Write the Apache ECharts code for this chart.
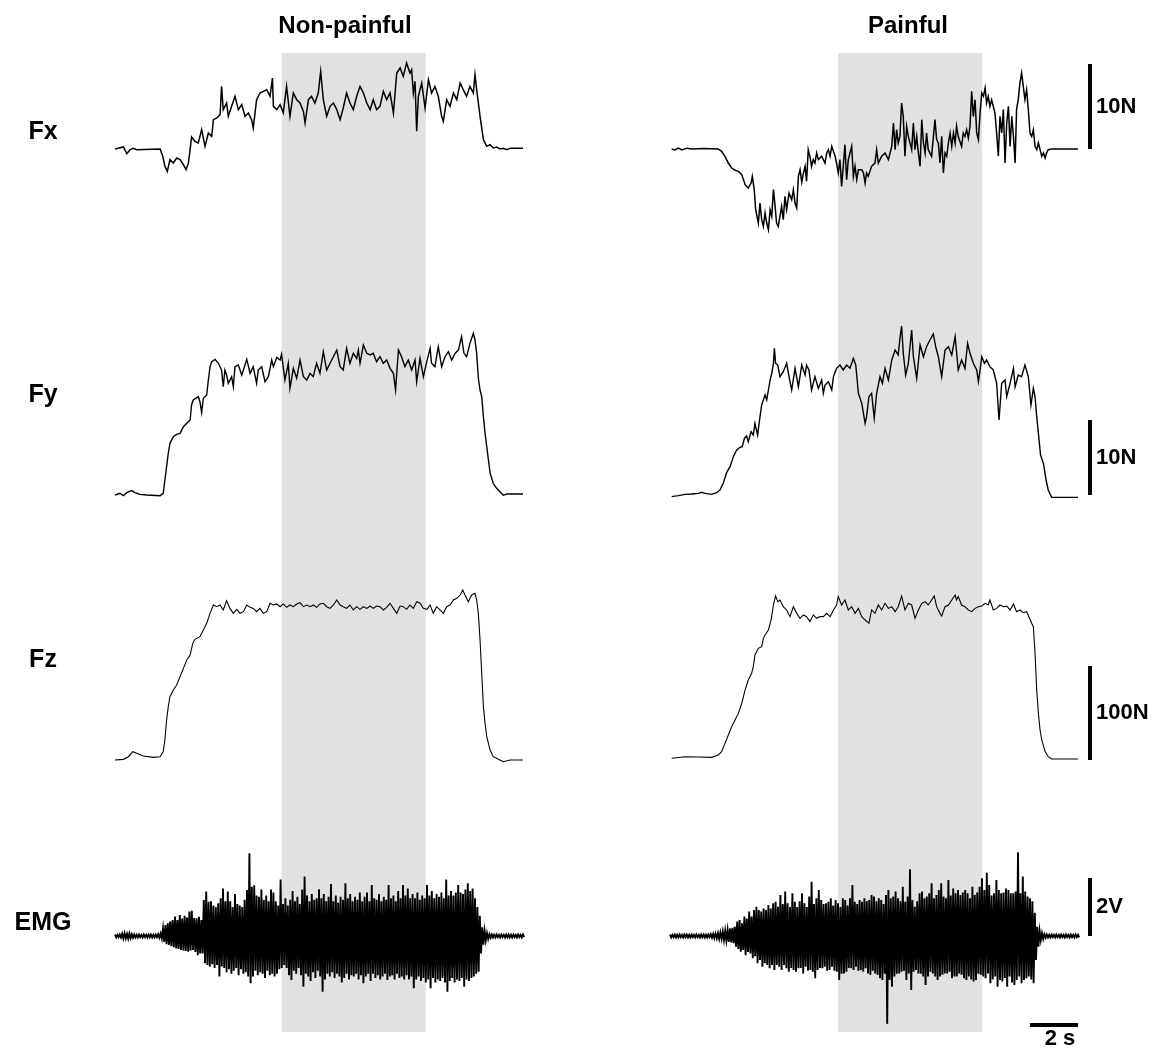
<!DOCTYPE html>
<html>
<head>
<meta charset="utf-8">
<title>Force and EMG traces</title>
<script src="https://cdn.jsdelivr.net/npm/echarts@6/dist/echarts.min.js"></script>
<style>
  html, body { margin: 0; padding: 0; background: #fff; }
  #chart { width: 1162px; height: 1057px; }
</style>
</head>
<body>
<div id="chart"></div>
<script>
// ---- data (time in s, forces in N, EMG in V) ----
const conditions = ['Non-painful', 'Painful'];
const channels = ['Fx', 'Fy', 'Fz', 'EMG'];
const stimWindows = [[6.95, 12.95], [7.0, 13.0]];
const traceDuration = 17;
const emgBinStep = 0.1;

const scaleBarValues = [10, 10, 100, 2];
const scaleBarLabels = ['10N', '10N', '100N', '2V'];
const timeBarSpan = [15, 17];
const timeBarLabel = '2 s';

const fxNonPainful = [
  [0,0],[0.35,0.24],[0.49,-0.55],[0.63,-0.08],[0.76,0.08],[0.9,-0.08],[1.88,0],[1.99,-0.86],[2.08,-2.04],[2.18,-2.63],
  [2.29,-1.25],[2.43,-1.65],[2.57,-1.06],[2.71,-1.25],[2.85,-1.84],[2.96,-2.43],[3.06,-1.65],[3.13,-0.08],[3.19,1.41],[3.33,0.9],
  [3.47,0.71],[3.61,2.27],[3.75,0.31],[3.89,1.88],[4.03,1.49],[4.10,3.45],[4.24,3.65],[4.38,4.04],[4.44,7.37],[4.51,4.63],
  [4.65,5.41],[4.72,3.84],[4.86,5.02],[5.0,6.2],[5.14,4.63],[5.28,5.22],[5.42,3.84],[5.56,4.24],[5.69,3.45],[5.76,2.47],
  [5.9,5.8],[6.04,6.59],[6.18,6.78],[6.32,6.98],[6.46,6.2],[6.56,8.35],[6.6,5.02],[6.74,4.63],[6.88,5.22],[7.01,4.24],
  [7.15,7.37],[7.29,3.84],[7.43,6.59],[7.57,5.8],[7.71,5.41],[7.85,4.43],[7.92,3.06],[8.06,5.8],[8.19,6.2],[8.33,5.41],
  [8.47,6.59],[8.57,9.14],[8.68,5.8],[8.82,3.84],[8.96,5.02],[9.1,5.41],[9.24,4.63],[9.38,3.45],[9.51,4.82],[9.65,6.59],
  [9.79,5.41],[9.93,4.63],[10.07,6.2],[10.21,7.37],[10.35,6.59],[10.49,5.41],[10.63,4.63],[10.76,5.8],[10.9,4.63],[11.04,5.02],
  [11.18,6.78],[11.32,5.8],[11.46,6.59],[11.6,4.24],[11.74,8.94],[11.88,9.53],[12.01,8.55],[12.15,10.12],[12.29,8.94],[12.36,9.33],
  [12.43,6.59],[12.5,7.96],[12.57,2.08],[12.64,6.2],[12.78,7.76],[12.92,4.82],[13.06,8.16],[13.19,6.59],[13.33,7.37],[13.47,6.2],
  [13.61,3.84],[13.68,3.25],[13.82,5.8],[13.96,5.02],[14.1,6.59],[14.24,5.8],[14.38,7.76],[14.51,6.98],[14.65,6.2],[14.79,7.37],
  [14.93,6.59],[15.0,8.75],[15.07,6.98],[15.21,3.84],[15.35,1.1],[15.49,0.31],[15.63,0.51],[15.76,0.12],[15.9,0.24],[16.04,0],
  [16.18,0.08],[16.32,-0.08],[16.46,0.08],[17,0.08]
];

const fxPainful = [
  [0.07,0],[0.2,-0.1],[0.35,0.1],[0.5,-0.1],[0.7,0.1],[0.9,0],[1.4,0.05],[2.01,0],[2.15,-0.27],[2.29,-0.86],
  [2.43,-1.65],[2.57,-2.24],[2.71,-2.51],[2.85,-2.63],[2.99,-3.02],[3.13,-4.2],[3.26,-4.59],[3.38,-4.0],[3.43,-3.22],[3.51,-4.78],
  [3.57,-7.14],[3.68,-8.71],[3.75,-6.35],[3.82,-8.31],[3.89,-9.1],[3.96,-7.53],[4.03,-8.71],[4.1,-9.49],[4.17,-7.14],[4.24,-7.92],
  [4.31,-4.78],[4.38,-6.75],[4.44,-8.71],[4.51,-9.1],[4.58,-7.92],[4.65,-6.75],[4.72,-8.31],[4.79,-5.57],[4.86,-7.14],[4.96,-5.18],
  [5.07,-5.96],[5.14,-4.78],[5.21,-6.35],[5.28,-6.94],[5.35,-3.22],[5.42,-2.43],[5.49,-3.9],[5.56,-2.82],[5.63,-2.04],[5.69,-3.8],
  [5.76,-0.08],[5.83,-0.86],[5.9,-2.04],[5.97,-1.25],[6.04,-1.65],[6.11,-0.47],[6.18,-1.25],[6.32,-0.86],[6.46,-1.65],[6.53,-0.47],
  [6.6,-0.08],[6.67,-0.86],[6.74,0.31],[6.88,-0.86],[6.94,-1.65],[7.01,-2.82],[7.08,-1.25],[7.15,-4.39],[7.22,-2.04],[7.29,0.51],
  [7.36,-3.61],[7.43,-1.25],[7.57,0.31],[7.64,-3.22],[7.71,-2.04],[7.78,-3.61],[7.85,-2.43],[7.99,-2.43],[8.06,-2.82],[8.13,-4.0],
  [8.19,-2.82],[8.26,-3.22],[8.4,-2.04],[8.54,-1.65],[8.61,-0.08],[8.68,-1.65],[8.82,-0.86],[8.96,-0.47],[9.1,-1.25],[9.24,0.31],
  [9.31,3.06],[9.38,-0.08],[9.44,2.27],[9.51,0.71],[9.58,1.49],[9.65,5.41],[9.72,3.84],[9.79,-0.86],[9.86,2.67],[9.93,1.49],
  [10.07,-0.08],[10.14,3.06],[10.21,-0.08],[10.28,1.49],[10.35,-0.47],[10.42,-2.04],[10.49,3.45],[10.56,0.71],[10.63,-0.47],[10.69,1.88],
  [10.76,-0.08],[10.9,-0.86],[11.04,3.45],[11.11,1.1],[11.18,0.71],[11.25,-1.65],[11.32,1.49],[11.39,-2.82],[11.46,-0.47],[11.53,-0.86],
  [11.6,0.71],[11.67,1.88],[11.74,0.31],[11.81,1.88],[11.88,0.71],[11.94,2.67],[12.01,1.49],[12.15,0.31],[12.22,1.88],[12.29,1.49],
  [12.36,2.27],[12.43,1.29],[12.5,2.67],[12.57,6.78],[12.64,3.84],[12.71,5.8],[12.78,1.88],[12.85,1.1],[12.92,4.24],[12.99,6.59],
  [13.06,6.2],[13.13,7.18],[13.19,5.41],[13.26,6.2],[13.33,5.02],[13.4,5.8],[13.54,4.24],[13.61,1.88],[13.68,-0.86],[13.75,3.84],
  [13.82,1.88],[13.89,4.63],[13.96,-1.65],[14.03,3.06],[14.1,5.02],[14.17,0.31],[14.24,3.84],[14.31,1.49],[14.38,-1.65],[14.44,4.63],
  [14.51,5.8],[14.58,7.76],[14.65,8.94],[14.72,7.37],[14.79,5.8],[14.86,6.98],[14.93,4.63],[15.0,1.88],[15.07,1.49],[15.14,2.27],
  [15.21,0.31],[15.28,-0.08],[15.35,0.71],[15.42,-0.08],[15.49,-0.86],[15.56,-0.47],[15.63,-1.06],[15.69,-0.47],[15.76,-0.08],[15.9,0],
  [17,0]
];

const fyNonPainful = [
  [0,0],[0.21,0.22],[0.35,-0.09],[0.49,0.31],[0.56,0.13],[0.69,0.58],[0.83,0.31],[1.04,0.09],[1.32,0],[1.88,-0.09],
  [2.01,0.22],[2.08,2.0],[2.15,3.78],[2.22,5.56],[2.29,6.89],[2.43,7.78],[2.57,8.09],[2.71,8.22],[2.85,9.11],[2.99,9.56],
  [3.13,10.0],[3.19,12.0],[3.26,12.67],[3.33,12.89],[3.47,13.11],[3.54,12.44],[3.61,10.98],[3.68,12.89],[3.82,13.33],[3.89,15.33],
  [3.96,17.11],[4.03,17.78],[4.17,18.09],[4.31,17.56],[4.44,16.67],[4.51,14.44],[4.58,16.67],[4.65,16.0],[4.72,14.89],[4.86,15.78],
  [4.93,14.44],[5.0,17.11],[5.14,17.33],[5.28,16.0],[5.35,16.67],[5.49,18.09],[5.63,16.22],[5.76,17.11],[5.9,14.89],[5.97,16.67],
  [6.11,17.11],[6.25,15.11],[6.39,15.78],[6.53,18.0],[6.6,17.11],[6.74,18.36],[6.88,18.0],[6.94,18.76],[7.08,15.33],[7.22,17.56],
  [7.29,14.22],[7.43,16.89],[7.57,15.56],[7.71,18.0],[7.85,15.78],[7.99,15.33],[8.13,16.22],[8.26,15.78],[8.4,17.56],[8.54,16.22],
  [8.68,19.11],[8.82,16.67],[8.96,17.56],[9.1,18.44],[9.24,19.33],[9.38,17.11],[9.51,16.67],[9.65,19.56],[9.79,17.56],[9.93,18.89],
  [10.07,18.22],[10.14,19.33],[10.21,17.56],[10.35,20.0],[10.49,18.89],[10.63,18.67],[10.76,18.89],[10.9,17.78],[11.04,18.44],[11.18,17.56],
  [11.32,18.0],[11.46,16.89],[11.6,16.22],[11.69,14.0],[11.81,19.33],[11.94,18.44],[12.08,17.11],[12.22,18.0],[12.36,16.67],[12.5,18.0],
  [12.57,15.11],[12.71,18.22],[12.85,15.78],[12.99,17.78],[13.13,19.56],[13.19,17.56],[13.33,17.11],[13.47,19.78],[13.61,17.11],[13.75,18.44],
  [13.89,19.11],[14.03,18.0],[14.17,18.89],[14.31,19.33],[14.44,21.11],[14.54,18.89],[14.65,18.44],[14.79,20.22],[14.93,21.56],[15.0,20.67],
  [15.07,18.89],[15.14,15.56],[15.21,14.0],[15.28,13.11],[15.35,10.44],[15.42,8.22],[15.49,6.44],[15.56,4.67],[15.63,2.89],[15.76,1.56],
  [15.9,0.89],[16.04,0.44],[16.18,-0.04],[16.32,0.13],[17,0.13]
];

const fyPainful = [
  [0.07,-0.22],[0.35,-0.09],[0.63,0.09],[0.9,0.13],[1.18,0.22],[1.32,0.36],[1.46,0.22],[1.74,0.09],[1.94,0.31],[2.08,0.67],
  [2.22,1.56],[2.36,2.98],[2.5,3.78],[2.64,5.11],[2.78,6.0],[2.92,6.36],[3.01,6.44],[3.1,7.56],[3.19,7.87],[3.26,7.11],
  [3.38,8.44],[3.47,8.0],[3.54,9.56],[3.65,8.0],[3.75,10.44],[3.82,12.0],[3.89,12.67],[3.96,13.33],[4.03,12.67],[4.1,14.0],
  [4.17,15.33],[4.24,16.22],[4.31,17.56],[4.35,19.56],[4.4,17.56],[4.49,17.33],[4.58,15.78],[4.72,16.44],[4.86,17.56],[4.96,15.78],
  [5.07,14.0],[5.21,16.89],[5.35,14.44],[5.49,17.33],[5.63,16.0],[5.69,17.33],[5.79,16.67],[5.9,14.0],[6.04,15.78],[6.18,14.22],
  [6.32,15.33],[6.39,13.56],[6.46,14.67],[6.6,15.11],[6.74,14.0],[6.81,15.78],[6.94,16.89],[7.08,17.33],[7.22,16.67],[7.36,17.33],
  [7.5,16.89],[7.64,18.22],[7.74,17.33],[7.85,13.56],[7.99,12.22],[8.13,9.56],[8.19,10.44],[8.29,13.11],[8.4,13.56],[8.51,10.22],
  [8.61,13.56],[8.75,15.78],[8.85,14.89],[8.96,16.89],[9.1,15.33],[9.24,18.0],[9.38,19.33],[9.51,18.67],[9.58,20.89],[9.65,22.53],
  [9.72,18.89],[9.82,16.0],[9.93,17.56],[10.07,22.0],[10.14,18.44],[10.28,15.56],[10.42,20.0],[10.56,18.44],[10.69,19.78],[10.83,20.67],
  [10.97,21.47],[11.07,19.78],[11.18,18.44],[11.32,15.78],[11.46,19.33],[11.6,19.78],[11.74,18.67],[11.88,21.11],[12.01,16.67],[12.15,18.0],
  [12.29,16.89],[12.4,20.22],[12.5,18.89],[12.64,17.56],[12.78,16.67],[12.85,15.11],[12.92,16.67],[12.99,18.44],[13.1,17.56],[13.19,18.0],
  [13.33,17.11],[13.47,16.67],[13.61,14.89],[13.71,10.0],[13.82,14.89],[13.96,15.33],[14.03,13.11],[14.17,14.89],[14.31,16.89],[14.38,14.44],
  [14.51,16.0],[14.65,15.78],[14.79,17.33],[14.86,17.56],[14.93,15.78],[15.04,12.0],[15.14,14.22],[15.21,13.11],[15.28,10.44],[15.35,8.22],
  [15.44,5.33],[15.56,4.22],[15.67,2.0],[15.76,0.67],[15.9,-0.31],[17,-0.31]
];

const fzNonPainful = [
  [0,0],[0.35,0.7],[0.56,3.5],[0.74,8.9],[0.9,7.1],[1.18,4.3],[1.6,2.8],[1.88,3.5],[2.01,8.9],[2.08,21.3],
  [2.15,42.6],[2.22,56.7],[2.29,67.4],[2.43,74.5],[2.57,79.8],[2.71,88.7],[2.85,97.5],[2.99,106.4],[3.13,111.7],[3.24,124.1],
  [3.33,128.4],[3.54,131.2],[3.68,138.3],[3.82,145.4],[3.96,156.0],[4.1,164.9],[4.24,163.1],[4.38,164.9],[4.51,159.6],[4.65,169.5],
  [4.79,161.3],[4.93,156.0],[5.07,160.3],[5.21,156.0],[5.35,157.8],[5.49,164.9],[5.63,162.4],[5.76,161.3],[5.9,157.8],[6.04,161.3],
  [6.18,156.0],[6.32,157.8],[6.46,166.7],[6.6,164.9],[6.74,166.0],[6.88,163.1],[7.01,166.0],[7.15,162.4],[7.29,164.9],[7.43,163.1],
  [7.57,166.0],[7.71,167.4],[7.85,163.1],[7.99,164.9],[8.13,163.1],[8.26,164.9],[8.4,162.4],[8.54,166.0],[8.68,166.7],[8.82,163.1],
  [8.96,161.3],[9.1,164.9],[9.24,170.2],[9.38,164.9],[9.51,163.1],[9.65,161.3],[9.79,164.9],[9.93,159.6],[10.07,163.1],[10.21,160.3],
  [10.35,163.1],[10.49,161.3],[10.63,163.8],[10.76,161.3],[10.9,163.8],[11.04,163.1],[11.18,159.6],[11.32,162.4],[11.46,166.7],[11.6,161.3],
  [11.74,156.0],[11.88,163.8],[12.01,163.1],[12.15,160.3],[12.29,164.9],[12.43,161.3],[12.57,168.4],[12.71,166.7],[12.85,161.3],[12.99,160.3],
  [13.13,164.9],[13.26,156.0],[13.4,163.1],[13.54,159.6],[13.68,156.0],[13.82,163.1],[13.96,164.9],[14.1,170.2],[14.24,172.0],[14.38,175.5],
  [14.49,180.9],[14.58,175.5],[14.72,168.4],[14.86,175.5],[15.0,177.3],[15.07,170.2],[15.14,156.0],[15.21,127.7],[15.28,92.2],[15.35,56.7],
  [15.42,39.0],[15.49,24.8],[15.63,10.6],[15.76,3.5],[15.97,0.7],[16.18,-1.8],[16.46,0],[17,0]
];

const fzPainful = [
  [0.07,1.8],[0.63,3.5],[1.18,3.2],[1.74,2.8],[2.01,5.3],[2.15,8.9],[2.29,17.7],[2.43,26.6],[2.57,35.5],[2.71,42.6],
  [2.85,49.6],[2.99,60.3],[3.13,74.5],[3.26,85.1],[3.4,92.2],[3.47,99.3],[3.54,111.7],[3.68,118.8],[3.82,120.6],[3.89,129.4],
  [3.96,133.0],[4.03,134.8],[4.1,138.3],[4.21,148.9],[4.31,164.9],[4.4,174.5],[4.49,168.4],[4.58,170.2],[4.72,163.1],[4.86,159.6],
  [5.0,152.5],[5.14,163.1],[5.28,156.0],[5.42,150.7],[5.56,154.3],[5.69,152.5],[5.83,147.2],[5.97,154.3],[6.11,150.7],[6.25,152.5],
  [6.39,152.5],[6.53,156.0],[6.67,152.5],[6.81,159.6],[6.94,164.9],[7.01,173.8],[7.15,164.9],[7.29,170.2],[7.43,159.6],[7.57,163.1],
  [7.71,156.0],[7.85,161.3],[7.99,152.5],[8.13,148.9],[8.29,145.4],[8.4,159.6],[8.54,156.0],[8.68,164.9],[8.82,159.6],[8.96,166.7],
  [9.1,161.3],[9.24,163.1],[9.38,157.8],[9.51,163.1],[9.65,174.5],[9.79,159.6],[9.93,166.7],[10.07,164.9],[10.21,150.7],[10.35,159.6],
  [10.49,166.7],[10.63,168.4],[10.76,164.9],[10.9,170.2],[11.01,174.5],[11.11,163.1],[11.25,156.0],[11.32,153.2],[11.46,163.1],[11.6,164.9],
  [11.74,170.2],[11.88,175.5],[11.94,170.2],[12.01,173.8],[12.15,164.9],[12.29,163.1],[12.43,159.6],[12.57,157.8],[12.71,161.3],[12.85,163.1],
  [12.99,163.8],[13.13,166.7],[13.26,164.9],[13.33,170.2],[13.47,159.6],[13.61,161.3],[13.75,164.9],[13.89,163.1],[14.03,163.8],[14.17,159.6],
  [14.31,166.0],[14.44,157.8],[14.58,159.6],[14.72,156.7],[14.86,157.8],[14.93,156.0],[15.07,145.4],[15.14,141.8],[15.21,113.5],[15.28,74.5],
  [15.35,49.6],[15.42,31.9],[15.49,21.3],[15.63,8.9],[15.76,3.5],[15.9,1.1],[17,1.1]
];

// EMG: positive and negative peak of each 0.1 s bin
const emgNonPainfulHi = [
  0.05,0.04,0.05,0.08,0.09,0.07,0.09,0.06,0.05,0.04,
  0.05,0.04,0.05,0.04,0.05,0.05,0.04,0.05,0.06,0.08,
  0.26,0.38,0.44,0.50,0.55,0.67,0.55,0.72,0.60,0.70,
  0.64,0.84,0.87,0.62,0.61,0.66,0.55,1.24,1.53,1.18,
  1.20,1.05,1.00,1.13,1.30,1.64,1.20,1.53,1.20,1.00,
  1.45,1.10,1.05,1.00,1.25,1.59,2.85,1.70,1.75,1.40,
  1.35,1.60,1.25,1.40,1.20,1.60,1.50,1.20,1.05,1.95,
  1.10,1.30,1.05,1.25,1.55,1.20,1.35,1.10,1.60,2.05,
  1.40,1.20,1.45,1.25,1.30,1.61,1.30,1.45,1.20,1.35,
  1.79,1.20,1.40,1.15,1.35,1.25,1.82,1.30,1.45,1.20,
  1.35,1.25,1.50,1.20,1.35,1.50,1.20,1.76,1.30,1.25,
  1.45,1.20,1.35,1.25,1.76,1.30,1.40,1.20,1.55,1.30,
  1.76,1.40,1.64,1.30,1.45,1.30,1.50,1.25,1.40,1.30,
  1.76,1.40,1.55,1.30,1.45,1.35,1.50,1.30,1.95,1.40,
  1.55,1.40,1.50,1.76,1.50,1.45,1.60,1.82,1.55,1.64,
  1.30,1.00,0.70,0.30,0.18,0.10,0.06,0.05,0.04,0.05,
  0.04,0.05,0.04,0.05,0.05,0.04,0.05,0.04,0.05,0.04,0.05
];
const emgNonPainfulLo = [
  -0.05,-0.04,-0.05,-0.08,-0.08,-0.09,-0.07,-0.06,-0.05,-0.05,
  -0.04,-0.05,-0.04,-0.05,-0.04,-0.05,-0.05,-0.04,-0.06,-0.08,
  -0.20,-0.28,-0.31,-0.35,-0.39,-0.43,-0.45,-0.48,-0.50,-0.52,
  -0.54,-0.50,-0.48,-0.55,-0.66,-0.60,-0.60,-0.94,-1.00,-1.06,
  -0.97,-1.10,-1.00,-1.40,-1.05,-1.10,-1.25,-1.15,-1.30,-1.20,
  -1.10,-1.35,-1.15,-1.30,-1.25,-1.40,-1.63,-1.40,-1.20,-1.35,
  -1.25,-1.30,-1.45,-1.20,-1.35,-1.30,-1.40,-1.30,-1.15,-1.10,
  -1.00,-1.10,-1.35,-1.52,-1.20,-1.30,-1.10,-1.35,-1.75,-1.30,
  -1.40,-1.55,-1.25,-1.45,-1.20,-1.40,-1.92,-1.50,-1.30,-1.40,
  -1.25,-1.45,-1.30,-1.40,-1.60,-1.45,-1.30,-1.50,-1.35,-1.40,
  -1.30,-1.50,-1.35,-1.63,-1.40,-1.30,-1.55,-1.30,-1.45,-1.35,
  -1.50,-1.40,-1.30,-1.52,-1.40,-1.35,-1.50,-1.30,-1.45,-1.40,
  -1.50,-1.35,-1.50,-1.40,-1.80,-1.50,-1.40,-1.55,-1.45,-1.60,
  -1.50,-1.80,-1.45,-1.60,-1.50,-1.55,-1.45,-1.60,-1.92,-1.55,
  -1.45,-1.60,-1.50,-1.55,-1.45,-1.75,-1.50,-1.55,-1.45,-1.40,
  -1.30,-1.23,-0.60,-0.30,-0.15,-0.10,-0.06,-0.05,-0.05,-0.04,
  -0.05,-0.04,-0.05,-0.04,-0.05,-0.05,-0.04,-0.05,-0.04,-0.05,-0.04
];
const emgPainfulHi = [
  0.05,0.04,0.05,0.04,0.05,0.04,0.05,0.05,0.04,0.05,
  0.04,0.05,0.04,0.05,0.05,0.04,0.05,0.06,0.07,0.08,
  0.10,0.12,0.15,0.18,0.20,0.26,0.28,0.32,0.50,0.55,
  0.44,0.67,0.60,0.84,0.67,0.90,1.01,0.90,0.84,0.95,
  0.90,1.07,0.95,1.13,1.18,1.01,1.41,1.10,1.53,1.13,
  1.00,1.47,1.18,1.00,1.20,1.47,1.13,1.00,1.36,1.87,
  1.10,1.30,1.59,1.24,1.10,1.13,1.18,1.30,1.05,1.24,
  1.13,1.00,1.30,1.24,1.05,1.30,1.76,1.18,1.10,1.24,
  1.18,1.30,1.20,1.24,1.41,1.36,1.20,1.30,1.24,1.10,
  1.41,1.59,1.30,1.36,1.53,1.30,1.20,1.70,1.18,1.36,
  2.30,1.24,1.01,1.20,1.47,1.53,1.30,1.36,1.47,1.82,
  1.30,1.41,1.59,1.82,1.36,1.30,1.93,1.40,1.64,1.47,
  1.59,1.41,1.50,1.59,1.47,1.30,1.70,1.41,1.50,1.70,
  1.99,1.59,2.18,1.76,1.40,1.47,1.93,1.59,1.47,1.50,
  1.64,1.59,1.47,1.47,1.53,2.89,1.47,2.05,1.53,1.36,
  1.30,1.20,0.80,0.32,0.18,0.10,0.06,0.05,0.04,0.05,
  0.04,0.05,0.04,0.05,0.04,0.05,0.04,0.05,0.04,0.05,0.04
];
const emgPainfulLo = [
  -0.05,-0.04,-0.05,-0.05,-0.04,-0.05,-0.04,-0.05,-0.05,-0.04,
  -0.05,-0.04,-0.05,-0.04,-0.05,-0.05,-0.04,-0.06,-0.07,-0.08,
  -0.10,-0.10,-0.14,-0.15,-0.20,-0.22,-0.25,-0.37,-0.45,-0.54,
  -0.48,-0.66,-0.55,-0.60,-0.77,-0.70,-0.94,-0.83,-1.06,-0.94,
  -1.00,-1.11,-1.00,-1.17,-1.00,-1.06,-1.17,-1.00,-1.11,-1.23,
  -1.10,-1.17,-1.23,-1.11,-1.10,-1.29,-1.06,-1.20,-1.17,-1.23,
  -1.46,-1.17,-1.10,-1.11,-1.06,-1.20,-1.17,-1.06,-1.20,-1.23,
  -1.52,-1.30,-1.29,-1.23,-1.10,-1.11,-1.17,-1.06,-1.20,-1.17,
  -1.23,-1.11,-1.29,-1.34,-1.20,-1.29,-1.34,-1.46,-1.52,-1.30,
  -3.03,-1.52,-1.75,-1.40,-1.30,-1.29,-1.23,-1.20,-1.52,-1.29,
  -1.86,-1.23,-1.17,-1.29,-1.30,-1.40,-1.69,-1.40,-1.23,-1.29,
  -1.40,-1.52,-1.40,-1.34,-1.29,-1.29,-1.23,-1.46,-1.40,-1.40,
  -1.29,-1.34,-1.46,-1.52,-1.40,-1.50,-1.57,-1.52,-1.30,-1.34,
  -1.40,-1.46,-1.29,-1.63,-1.50,-1.40,-1.75,-1.52,-1.57,-1.45,
  -1.75,-1.40,-1.60,-1.69,-1.52,-1.40,-1.63,-1.52,-1.46,-1.40,
  -1.50,-1.63,-0.83,-0.37,-0.14,-0.10,-0.06,-0.05,-0.05,-0.04,
  -0.05,-0.04,-0.05,-0.04,-0.05,-0.04,-0.05,-0.04,-0.05,-0.04,-0.05
];

// ---- layout ----
const PX_PER_SEC = 24;
const COL_LEFT = [115, 670];
// pixel row of the zero line, pixels per unit, axis range and stroke for each channel
const ROWS = [
  { zero: 149, unitPx: 8.5, min: -11, max: 12, width: 1.5 },
  { zero: 495, unitPx: 7.5, min: -2, max: 24, width: 1.4 },
  { zero: 760, unitPx: 0.94, min: -20, max: 190, width: 1.1 },
  { zero: 936, unitPx: 29, min: -3.5, max: 3.5, width: 1.9 }
];
const BAND_TOP = 53, BAND_BOTTOM = 1032;
const SCALE_BAR_T = 17.5;     // s, just right of the painful traces
const TIME_BAR_LEVEL = -3.07; // V, below the painful EMG trace
const TITLE_X = [345, 908];
const TITLE_Y = 26;
const LABEL_X = 43;
const LABEL_Y = [132, 395, 660, 923];
const FONT = 'bold 22px "Liberation Sans", Arial, sans-serif';
const TITLE_FONT = 'bold 24px "Liberation Sans", Arial, sans-serif';
const ROW_FONT = 'bold 25px "Liberation Sans", Arial, sans-serif';

function emgTrace(hi, lo) {
  const pts = [];
  hi.forEach((h, i) => {
    const t = i * emgBinStep;
    pts.push([t, h], [t + emgBinStep / 2, lo[i]]);
  });
  return pts;
}

const traces = [
  [fxNonPainful, fxPainful],
  [fyNonPainful, fyPainful],
  [fzNonPainful, fzPainful],
  [emgTrace(emgNonPainfulHi, emgNonPainfulLo), emgTrace(emgPainfulHi, emgPainfulLo)]
];

const grids = [], xAxes = [], yAxes = [], series = [];

ROWS.forEach((row, r) => {
  COL_LEFT.forEach((left, c) => {
    const idx = grids.length;
    grids.push({
      left: left,
      width: traceDuration * PX_PER_SEC,
      top: row.zero - row.max * row.unitPx,
      height: (row.max - row.min) * row.unitPx
    });
    xAxes.push({ gridIndex: idx, type: 'value', min: 0, max: traceDuration, show: false });
    yAxes.push({ gridIndex: idx, type: 'value', min: row.min, max: row.max, show: false });
    series.push({
      name: channels[r] + ' ' + conditions[c],
      type: 'line',
      xAxisIndex: idx,
      yAxisIndex: idx,
      data: traces[r][c],
      showSymbol: false,
      symbol: 'none',
      silent: true,
      z: 3,
      lineStyle: { color: '#000', width: row.width, join: 'miter' }
    });
  });
});

// grey stimulus band, one full-height grid per condition
COL_LEFT.forEach((left, c) => {
  const idx = grids.length;
  grids.push({ left: left, width: traceDuration * PX_PER_SEC, top: BAND_TOP, height: BAND_BOTTOM - BAND_TOP });
  xAxes.push({ gridIndex: idx, type: 'value', min: 0, max: traceDuration, show: false });
  yAxes.push({ gridIndex: idx, type: 'value', min: 0, max: 1, show: false });
  series.push({
    type: 'custom',
    xAxisIndex: idx,
    yAxisIndex: idx,
    silent: true,
    z: 1,
    data: [stimWindows[c]],
    renderItem: (params, api) => {
      const a = api.coord([api.value(0), 1]);
      const b = api.coord([api.value(1), 0]);
      return {
        type: 'rect',
        shape: { x: a[0], y: a[1], width: b[0] - a[0], height: b[1] - a[1] },
        style: { fill: '#e1e1e1' }
      };
    }
  });
});

// scale bars sit on the painful (right) grids
function scaleBarSeries(gridIdx, bars, labels) {
  return {
    type: 'custom',
    xAxisIndex: gridIdx,
    yAxisIndex: gridIdx,
    silent: true,
    clip: false,
    z: 4,
    data: bars,
    renderItem: (params, api) => {
      const p0 = api.coord([api.value(0), api.value(1)]);
      const p1 = api.coord([api.value(2), api.value(3)]);
      const vertical = Math.abs(p0[0] - p1[0]) < 1;
      return {
        type: 'group',
        children: [
          {
            type: 'line',
            shape: { x1: p0[0], y1: p0[1], x2: p1[0], y2: p1[1] },
            style: { stroke: '#000', lineWidth: 4 }
          },
          {
            type: 'text',
            x: vertical ? p0[0] + 6 : (p0[0] + p1[0]) / 2 + 6,
            y: vertical ? (p0[1] + p1[1]) / 2 : p0[1] + 3,
            style: {
              text: labels[params.dataIndex],
              fill: '#000',
              font: FONT,
              align: vertical ? 'left' : 'center',
              verticalAlign: vertical ? 'middle' : 'top'
            }
          }
        ]
      };
    }
  };
}

ROWS.forEach((row, r) => {
  const gridIdx = r * 2 + 1;
  const bars = [[SCALE_BAR_T, 0, SCALE_BAR_T, scaleBarValues[r]]];
  const labels = [scaleBarLabels[r]];
  if (r === ROWS.length - 1) {
    bars.push([timeBarSpan[0], TIME_BAR_LEVEL, timeBarSpan[1], TIME_BAR_LEVEL]);
    labels.push(timeBarLabel);
  }
  series.push(scaleBarSeries(gridIdx, bars, labels));
});

const texts = [];
conditions.forEach((name, c) => {
  texts.push({
    type: 'text',
    x: TITLE_X[c],
    y: TITLE_Y,
    style: { text: name, font: TITLE_FONT, fill: '#000', align: 'center', verticalAlign: 'middle' }
  });
});
channels.forEach((name, r) => {
  texts.push({
    type: 'text',
    x: LABEL_X,
    y: LABEL_Y[r],
    style: { text: name, font: ROW_FONT, fill: '#000', align: 'center', verticalAlign: 'middle' }
  });
});

const chart = echarts.init(document.getElementById('chart'), null, { renderer: 'canvas' });
chart.setOption({
  animation: false,
  backgroundColor: '#fff',
  grid: grids,
  xAxis: xAxes,
  yAxis: yAxes,
  graphic: texts,
  series: series
});
</script>
</body>
</html>
